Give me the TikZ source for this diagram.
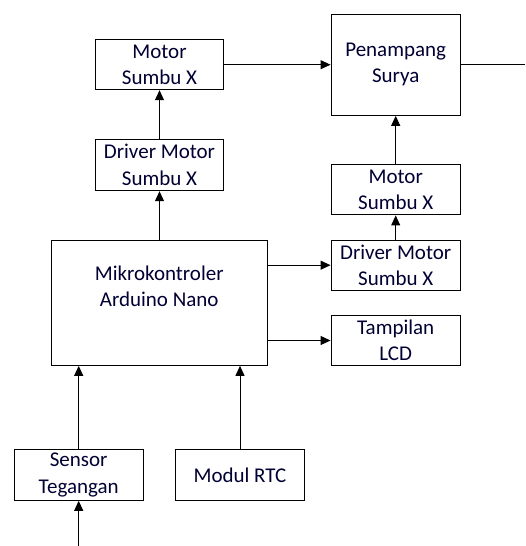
\documentclass[tikz,border=0pt]{standalone}
\usepackage{fontspec}
\setmainfont{Carlito}
\usetikzlibrary{arrows.meta}
\begin{document}
\begin{tikzpicture}[x=1pt,y=-1pt,
  blok/.style={draw, line width=1pt, inner sep=0pt, align=center,
    font=\fontsize{21}{26.5}\selectfont, text=black!80!blue},
  konek/.style={line width=1pt, -{Triangle[length=10pt,width=9pt]}},
  garis/.style={line width=1pt}]
\useasboundingbox (0,0) rectangle (525,546);
\node[blok, minimum width=128.4pt, minimum height=50pt] (motorL) at (159.5,64.7) {Motor\\Sumbu X};
\node[blok, minimum width=129.3pt, minimum height=101.3pt] (surya) at (395.7,64.7) {Penampang\\Surya};
\node[blok, minimum width=128.4pt, minimum height=51.4pt] (driverL) at (159.5,165) {Driver Motor\\Sumbu X};
\node[blok, minimum width=129.3pt, minimum height=50.3pt] (motorR) at (395.7,189.8) {Motor\\Sumbu X};
\node[blok, minimum width=215.7pt, minimum height=125.3pt] (mikro) at (159.2,302.7) {Mikrokontroler\\Arduino Nano\\[6pt]};
\node[blok, minimum width=129.3pt, minimum height=49.7pt] (driverR) at (395.7,265.2) {Driver Motor\\Sumbu X};
\node[blok, minimum width=129.3pt, minimum height=49.6pt] (lcd) at (395.7,340.5) {Tampilan\\LCD};
\node[blok, minimum width=128.7pt, minimum height=51pt] (sensor) at (78.7,474.8) {Sensor\\Tegangan};
\node[blok, minimum width=128.6pt, minimum height=51pt] (rtc) at (240,474.8) {Modul RTC};
\coordinate (masuk) at (78.7,546);
\coordinate (keluar) at (525,64.7);
\draw[konek] (motorL) -- (surya);
\draw[garis] (surya) -- (keluar);
\draw[konek] (driverL) -- (motorL);
\draw[konek] (mikro.north -| driverL) -- (driverL);
\draw[konek] (motorR) -- (surya);
\draw[konek] (driverR) -- (motorR);
\draw[konek] (mikro.east |- driverR) -- (driverR);
\draw[konek] (mikro.east |- lcd) -- (lcd);
\draw[konek] (sensor) -- (sensor |- mikro.south);
\draw[konek] (rtc) -- (rtc |- mikro.south);
\draw[konek] (masuk) -- (sensor);
\end{tikzpicture}
\end{document}
